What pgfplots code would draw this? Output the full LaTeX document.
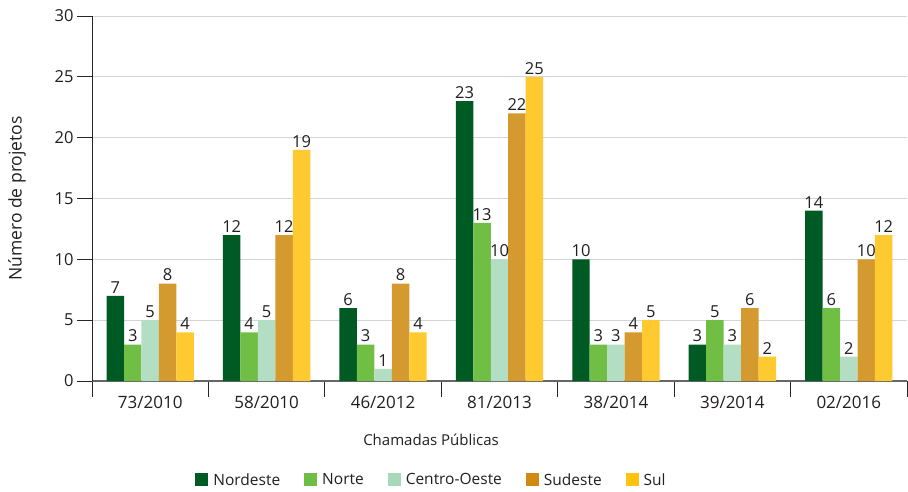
\documentclass[border=0pt]{standalone}
\usepackage{fontspec}
\setmainfont{Open Sans}
\usepackage{pgfplots}
\pgfplotsset{compat=1.18}
\definecolor{cNE}{HTML}{005A24}
\definecolor{cN}{HTML}{70BF44}
\definecolor{cCO}{HTML}{B3DEC3}
\definecolor{cSE}{HTML}{D4992F}
\definecolor{cS}{HTML}{FFCA30}
\definecolor{lNE}{HTML}{005A24}
\definecolor{lN}{HTML}{6FBE44}
\definecolor{lCO}{HTML}{A8D8B9}
\definecolor{lSE}{HTML}{D08A14}
\definecolor{lS}{HTML}{FFC20E}
\definecolor{txt}{HTML}{231F20}
\begin{document}
\begin{tikzpicture}
\path[use as bounding box] (0,0) rectangle (908pt,491pt);
\begin{axis}[
  at={(92pt,110pt)}, anchor=south west,
  scale only axis, width=815pt, height=365pt,
  xmin=-0.5, xmax=6.5, ymin=0, ymax=30,
  enlargelimits=false,
  axis x line*=bottom, axis y line*=left,
  x axis line style={draw=black!60, line width=1.6pt, -},
  y axis line style={draw=black!85, line width=0.8pt, -},
  ytick={0,5,...,30},
  ymajorgrids, grid style={draw=black!17, line width=1pt},
  major y tick style={draw=black!85, line width=0.8pt},
  tick align=outside, major tick length=15pt, minor tick length=16pt,
  xtick={0,...,6},
  xticklabels={73/2010,58/2010,46/2012,81/2013,38/2014,39/2014,02/2016},
  major x tick style={draw=none},
  minor xtick={-0.5,0.5,...,6.5},
  minor x tick style={draw=black!85, line width=0.8pt},
  /pgf/number format/assume math mode=true,
  yticklabel style={font=\fontsize{16.5}{19}\selectfont, text=txt, anchor=east, xshift=0pt},
  xticklabel style={font=\fontsize{17}{20}\selectfont, text=txt, anchor=center, yshift=-6pt},
  ylabel={Número de projetos},
  ylabel style={at={(axis description cs:-0.092,0.5)}, anchor=center, font=\fontsize{17.5}{20}\selectfont, text=txt},
  xlabel={Chamadas Públicas},
  xlabel style={at={(axis description cs:0.416,-0.1616)}, anchor=center, font=\fontsize{15}{18}\selectfont, text=txt},
  ybar, bar width=0.15,
  nodes near coords,
  every node near coord/.append style={font=\fontsize{16.5}{19}\selectfont, text=txt, anchor=south, yshift=-1pt},
  legend columns=5,
  legend style={at={(axis description cs:0.4166,-0.271)}, anchor=center, draw=none, inner sep=0pt,
    font=\fontsize{15.5}{18}\selectfont, text=txt,
    nodes={inner xsep=2pt, inner ysep=0pt},
    /tikz/every odd column/.append style={column sep=3pt},
    /tikz/every even column/.append style={column sep=22pt}},
  legend image code/.code={\fill (0pt,-6.5pt) rectangle (13pt,6.5pt);},
]
\addlegendimage{fill=lNE, draw=none}
\addlegendimage{fill=lN, draw=none}
\addlegendimage{fill=lCO, draw=none}
\addlegendimage{fill=lSE, draw=none}
\addlegendimage{fill=lS, draw=none}
\legend{Nordeste,Norte,Centro-Oeste,Sudeste,Sul}
\addplot[forget plot, fill=cNE, draw=none, bar shift=-0.3] coordinates {(0,7) (1,12) (2,6) (3,23) (4,10) (5,3) (6,14)};
\addplot[forget plot, fill=cN, draw=none, bar shift=-0.15] coordinates {(0,3) (1,4) (2,3) (3,13) (4,3) (5,5) (6,6)};
\addplot[forget plot, fill=cCO, draw=none, bar shift=0] coordinates {(0,5) (1,5) (2,1) (3,10) (4,3) (5,3) (6,2)};
\addplot[forget plot, fill=cSE, draw=none, bar shift=0.15] coordinates {(0,8) (1,12) (2,8) (3,22) (4,4) (5,6) (6,10)};
\addplot[forget plot, fill=cS, draw=none, bar shift=0.3] coordinates {(0,4) (1,19) (2,4) (3,25) (4,5) (5,2) (6,12)};
\end{axis}
\end{tikzpicture}
\end{document}
